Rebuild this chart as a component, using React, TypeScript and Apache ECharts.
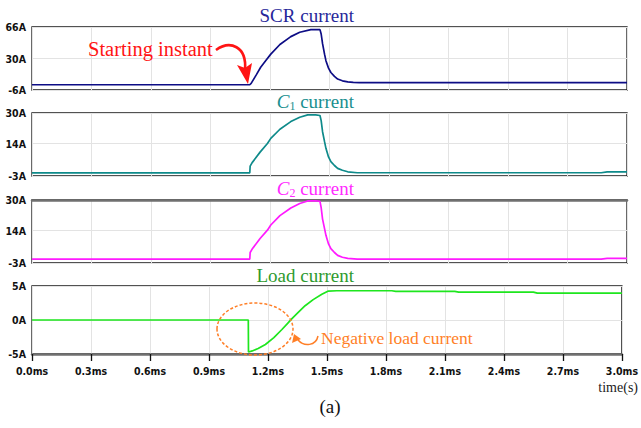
import React, { useEffect, useRef } from "react";
import * as echarts from "echarts";

// ---- data (time in ms, current in A) ----
const scrTime = [0, 1.098, 1.105, 1.13, 1.153, 1.18, 1.204, 1.25, 1.305, 1.35, 1.406, 1.452, 1.458, 1.465, 1.475, 1.482, 1.495, 1.507, 1.525, 1.541, 1.565, 1.592, 1.62, 1.65, 3.0];
const scrValues = [0, 0, 1.5, 11, 20, 28, 35, 46, 55, 60, 63, 63, 58, 47, 35, 27.5, 19, 14, 9.5, 6.5, 4.5, 3.3, 2.8, 2.5, 2.5];

const c1Time = [0, 1.098, 1.1, 1.11, 1.15, 1.187, 1.204, 1.25, 1.305, 1.35, 1.39, 1.43, 1.452, 1.458, 1.465, 1.475, 1.482, 1.495, 1.507, 1.525, 1.541, 1.565, 1.592, 1.64, 2.87, 2.9, 3.0];
const c1Values = [-1.4, -1.4, 2.2, 4, 9.5, 14, 16.7, 21.5, 25.5, 27.8, 29, 29, 28.7, 26, 20.2, 15, 11.5, 7, 4.5, 2.5, 1, 0, -0.8, -1.3, -1.3, -0.8, -0.8];

const c2Time = [0, 1.098, 1.1, 1.11, 1.15, 1.187, 1.204, 1.25, 1.305, 1.35, 1.39, 1.43, 1.452, 1.458, 1.465, 1.475, 1.482, 1.495, 1.507, 1.525, 1.541, 1.565, 1.592, 1.64, 2.87, 2.9, 3.0];
const c2Values = [-1, -1, 2.5, 4.3, 9.8, 14.2, 16.9, 21.8, 25.8, 28.2, 29.5, 29.6, 29.3, 26, 20, 15, 11.5, 7, 4.5, 2.5, 1, 0, -0.6, -1, -1, -0.6, -0.6];

const loadTime = [0, 1.1, 1.101, 1.12, 1.15, 1.187, 1.23, 1.271, 1.3, 1.322, 1.35, 1.389, 1.43, 1.474, 1.507, 1.55, 1.83, 1.85, 2.15, 2.17, 2.55, 2.57, 3.0];
const loadValues = [0, 0, -4.7, -4.55, -4.2, -3.6, -2.6, -1.4, -0.5, 0.2, 1.0, 2.1, 3.0, 3.8, 4.25, 4.3, 4.3, 4.2, 4.2, 4.1, 4.1, 3.95, 3.95];

const scrTicks = [-6, 30, 66];
const capTicks = [-3, 14, 30];
const loadTicks = [-5, 0, 5];
const timeMin = 0;
const timeMax = 3.0;
const timeStep = 0.3;

const panelTitles = ["SCR current", "C1 current", "C2 current", "Load current"];

const pair = (t: number[], v: number[]) => t.map((x, i) => [x, v[i]]);

const SERIF = "Liberation Serif";
const NARROW = "Liberation Sans Narrow, DejaVu Sans Condensed, Liberation Sans, sans-serif";

export default function App() {
  const ref = useRef<HTMLDivElement>(null);

  useEffect(() => {
    document.body.style.margin = "0";
    if (!ref.current) return;
    const chart = echarts.init(ref.current, null, { renderer: "svg" });

    const grids = [
      { top: 27, height: 63 },
      { top: 113, height: 63 },
      { top: 200, height: 63 },
      { top: 286, height: 68 },
    ].map((g) => ({
      ...g,
      left: 32,
      right: 14,
      show: true,
      borderColor: "#1a1a1a",
      borderWidth: 1.3,
      backgroundColor: "transparent",
    }));

    const xAxes: any[] = grids.map((_, i) => ({
      type: "value",
      gridIndex: i,
      min: timeMin,
      max: timeMax,
      interval: timeStep,
      axisLine: { show: i === 3, onZero: false, lineStyle: { color: "#707070", width: 2.5 } },
      axisTick: { show: i === 3, length: 7, lineStyle: { color: "#111", width: 1.3 } },
      axisLabel: {
        show: i === 3,
        margin: 11,
        fontFamily: NARROW,
        fontWeight: "bold",
        fontSize: 10.5,
        color: "#111",
        formatter: (v: number) => v.toFixed(1) + "ms",
      },
      splitLine: { show: true, lineStyle: { color: "#e3e3e3", width: 1 } },
    }));
    xAxes.push({
      type: "value",
      gridIndex: 2,
      position: "top",
      min: timeMin,
      max: timeMax,
      interval: timeStep,
      axisLine: { show: true, onZero: false, lineStyle: { color: "#707070", width: 2.5 } },
      axisTick: { show: false },
      axisLabel: { show: false },
      splitLine: { show: false },
    });

    const yDefs = [
      { ticks: scrTicks },
      { ticks: capTicks },
      { ticks: capTicks },
      { ticks: loadTicks },
    ];
    const yAxes = yDefs.map((d, i) => ({
      type: "value",
      gridIndex: i,
      min: d.ticks[0],
      max: d.ticks[d.ticks.length - 1],
      axisLine: { show: false, onZero: false },
      axisTick: { show: false, customValues: d.ticks },
      axisLabel: {
        customValues: d.ticks,
        margin: 6,
        fontFamily: NARROW,
        fontWeight: "bold",
        fontSize: 10.5,
        color: "#111",
        formatter: (v: number) => v + "A",
      },
      splitLine: { show: true, lineStyle: { color: "#e3e3e3", width: 1 } },
    }));

    const mk = (name: string, data: number[][], idx: number, color: string) => ({
      name,
      type: "line",
      xAxisIndex: idx,
      yAxisIndex: idx,
      data,
      showSymbol: false,
      symbol: "none",
      lineStyle: { color, width: 1.7 },
      z: 3,
    });

    const titleStyle = (fill: string) => ({
      fill,
      fontFamily: SERIF,
      fontSize: 19,
      textAlign: "right",
      textVerticalAlign: "middle",
    });

    const capRich = (fill: string) => ({
      c: { fontFamily: SERIF, fontSize: 19, fontStyle: "italic", fill, lineHeight: 22 },
      s: { fontFamily: SERIF, fontSize: 12, fill, lineHeight: 11, verticalAlign: "bottom" },
      n: { fontFamily: SERIF, fontSize: 19, fill, lineHeight: 22 },
    });

    const option: any = {
      animation: false,
      backgroundColor: "#ffffff",
      grid: grids,
      xAxis: xAxes,
      yAxis: yAxes,
      series: [
        mk("SCR current", pair(scrTime, scrValues), 0, "#0d0d85"),
        mk("C1 current", pair(c1Time, c1Values), 1, "#0e8a8a"),
        mk("C2 current", pair(c2Time, c2Values), 2, "#ff1aff"),
        mk("Load current", pair(loadTime, loadValues), 3, "#1ee61e"),
      ],
      graphic: [
        { type: "text", x: 354, y: 15, z: 100, style: { ...titleStyle("#27279a"), text: panelTitles[0] } },
        {
          type: "text", x: 354, y: 101, z: 100,
          style: { ...titleStyle("#1a8f8f"), text: "{c|C}{s|1}{n| current}", rich: capRich("#1a8f8f") },
        },
        {
          type: "text", x: 354, y: 188, z: 100,
          style: { ...titleStyle("#ff2aff"), text: "{c|C}{s|2}{n| current}", rich: capRich("#ff2aff") },
        },
        { type: "text", x: 354, y: 275, z: 100, style: { ...titleStyle("#2e9a2e"), text: panelTitles[3] } },

        {
          type: "text", x: 88, y: 49, z: 100,
          style: { text: "Starting instant", fill: "#ff1414", fontFamily: SERIF, fontSize: 20.5, textVerticalAlign: "middle" },
        },
        {
          type: "bezierCurve", z: 100,
          shape: { x1: 216, y1: 50, cpx1: 230, cpy1: 40, cpx2: 247, cpy2: 46, x2: 245, y2: 70 },
          style: { stroke: "#ff1414", lineWidth: 2.6, fill: "none" },
        },
        {
          type: "polygon", z: 100,
          shape: { points: [[237, 65], [248, 84], [252, 63], [245, 68]] },
          style: { fill: "#ff1414" },
        },

        {
          type: "ellipse", z: 100,
          shape: { cx: 255, cy: 329, rx: 38, ry: 26 },
          style: { stroke: "#ff7f27", lineWidth: 1.5, lineDash: [3, 2], fill: "none" },
        },
        {
          type: "text", x: 321, y: 338, z: 100,
          style: { text: "Negative load current", fill: "#ff7f27", fontFamily: SERIF, fontSize: 17.5, textVerticalAlign: "middle" },
        },
        {
          type: "bezierCurve", z: 100,
          shape: { x1: 318, y1: 336, cpx1: 316, cpy1: 346, cpx2: 304, cpy2: 347, x2: 298, y2: 340 },
          style: { stroke: "#ff7f27", lineWidth: 1.5, fill: "none" },
        },
        {
          type: "polygon", z: 100,
          shape: { points: [[294, 334], [292, 343], [301, 339]] },
          style: { fill: "#ff7f27" },
        },

        {
          type: "text", x: 638, y: 387, z: 100,
          style: { text: "time(s)", fill: "#222", fontFamily: SERIF, fontSize: 14, textAlign: "right", textVerticalAlign: "middle" },
        },
        {
          type: "text", x: 330, y: 406, z: 100,
          style: { text: "(a)", fill: "#111", fontFamily: SERIF, fontSize: 19, textAlign: "center", textVerticalAlign: "middle" },
        },
      ],
    };

    chart.setOption(option);
    return () => chart.dispose();
  }, []);

  return <div ref={ref} style={{ width: 641, height: 428 }} />;
}
